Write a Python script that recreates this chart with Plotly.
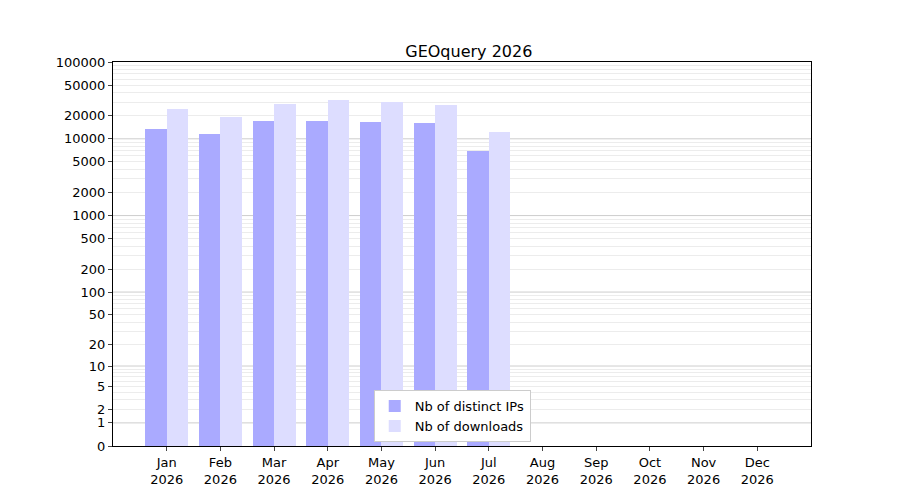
import numpy as np
import plotly.graph_objects as go

months = ["Jan", "Feb", "Mar", "Apr", "May", "Jun", "Jul", "Aug", "Sep", "Oct", "Nov", "Dec"]
year = "2026"
ips = [13500, 11600, 17100, 17000, 16500, 16000, 7000]
downloads = [24500, 19300, 28500, 32000, 30500, 27500, 12300]
ytick_values = [0, 1, 2, 5, 10, 20, 50, 100, 200, 500, 1000, 2000, 5000, 10000, 20000, 50000, 100000]

def tr(v):
    return np.log10(1 + np.array(v, dtype=float))

xpos = np.arange(len(months))
fig = go.Figure()
fig.add_trace(go.Bar(name="Nb of distinct IPs", x=xpos[:len(ips)] - 0.2, y=tr(ips),
                     width=0.4, marker=dict(color="#aaaaff", line=dict(width=0))))
fig.add_trace(go.Bar(name="Nb of downloads", x=xpos[:len(downloads)] + 0.2, y=tr(downloads),
                     width=0.4, marker=dict(color="#ddddff", line=dict(width=0))))

minor = [k * 10 ** n for n in range(0, 5) for k in range(2, 10)]
decades = [10 ** n for n in range(0, 5)]
for d in decades:
    fig.add_shape(type="line", xref="paper", x0=0, x1=1, y0=tr(d), y1=tr(d),
                  line=dict(color="#c0c0c0", width=0.8), layer="below")

fig.update_layout(
    width=900, height=500, plot_bgcolor="white", paper_bgcolor="white",
    title=dict(text="GEOquery 2026", x=0.512, y=0.925, xanchor="center",
               font=dict(size=16, color="black")),
    font=dict(family="DejaVu Sans", size=13, color="black"),
    margin=dict(l=105, r=97, t=54, b=62),
    bargap=0, barmode="overlay",
    legend=dict(x=0.486, y=0.01, xanchor="center", yanchor="bottom", bgcolor="white",
                bordercolor="#cccccc", borderwidth=1, font=dict(size=13)),
    xaxis=dict(range=[-1, 12], tickvals=list(xpos), ticktext=[m + "<br>" + year for m in months],
               showgrid=False, zeroline=False, showline=True, mirror=True, linecolor="black",
               ticks="outside", ticklen=4),
    yaxis=dict(range=[0, tr(100000)], tickvals=list(tr(ytick_values)),
               ticktext=[str(v) for v in ytick_values], showgrid=False, zeroline=False,
               showline=True, mirror=True, linecolor="black", ticks="outside", ticklen=4,
               minor=dict(tickvals=list(tr(minor)), showgrid=True, gridcolor="#ececec",
                          gridwidth=0.6, ticks="")),
)
fig.write_html("out.html")
